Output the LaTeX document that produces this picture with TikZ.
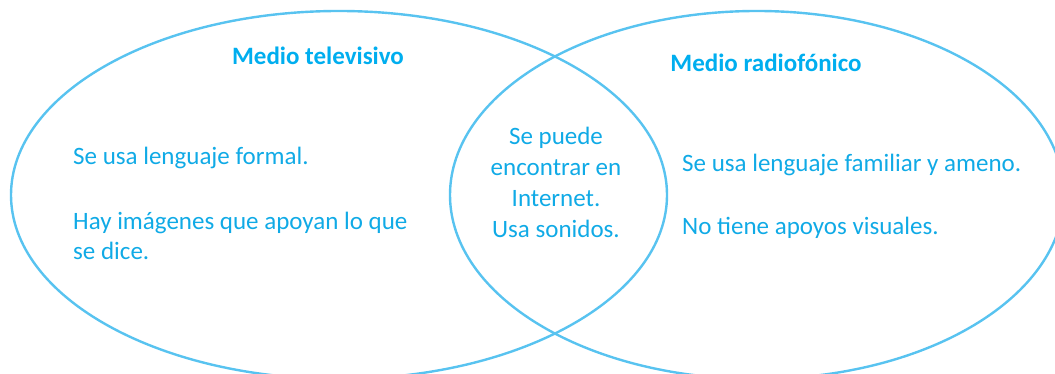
\documentclass[tikz,border=0pt]{standalone}
\usepackage{fontspec}
\setmainfont{Carlito}
\definecolor{vennline}{RGB}{88,195,240}
\definecolor{venntext}{RGB}{16,170,230}
\definecolor{venntitle}{RGB}{0,174,239}
\begin{document}
\begin{tikzpicture}[x=1pt, y=1pt, every node/.style={text=venntext, inner sep=0pt, font=\fontsize{25}{30}\selectfont},
	titulo/.style={font=\fontsize{25}{30}\selectfont\bfseries, text=venntitle, anchor=base},
	texto/.style={anchor=base west, align=left}]
	\useasboundingbox (0,0) rectangle (1055,374);
	\clip (0,0) rectangle (1055,374);
	
	% === elipses ===
	\draw[vennline, line width=2.4pt] (339,179) ellipse [x radius=328, y radius=184];
	\draw[vennline, line width=2.4pt] (757,179) ellipse [x radius=307, y radius=184];
	
	% === títulos ===
	\node[titulo] (tele) at (318,309) {Medio televisivo};
	\node[titulo] (radio) at (766,302) {Medio radiofónico};
	
	% === medio televisivo (base = última línea) ===
	\node[texto] (tele1) at (73,209) {Se usa lenguaje formal.};
	\node[texto] (tele2) at (73,114) {Hay imágenes que apoyan lo que\\se dice.};
	
	% === en común ===
	\node[anchor=base, align=center, font=\fontsize{25}{31}\selectfont] (comun) at (556,136) {Se puede\\encontrar en\\Internet.\\Usa sonidos.};
	
	% === medio radiofónico ===
	\node[texto] (radio1) at (682,202) {Se usa lenguaje familiar y ameno.};
	\node[texto] (radio2) at (682,139) {No tiene apoyos visuales.};
\end{tikzpicture}
\end{document}
